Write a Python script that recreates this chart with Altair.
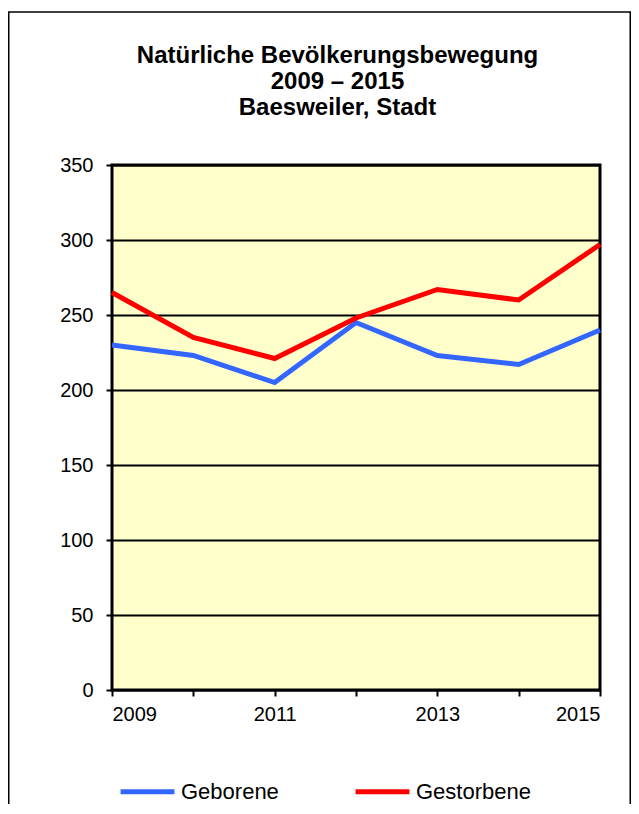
import altair as alt
import pandas as pd

years = [2009, 2010, 2011, 2012, 2013, 2014, 2015]
geborene = [230, 223, 205, 245, 223, 217, 240]
gestorbene = [265, 235, 221, 248, 267, 260, 297]
series_names = ["Geborene", "Gestorbene"]
series_colors = ["#3366FF", "#FF0000"]
y_ticks = [0, 50, 100, 150, 200, 250, 300, 350]
title_lines = ["Natürliche Bevölkerungsbewegung", "2009 – 2015", "Baesweiler, Stadt"]

rows = []
for y, g, s in zip(years, geborene, gestorbene):
    rows.append({"Jahr": y, "Wert": g, "Reihe": series_names[0]})
    rows.append({"Jahr": y, "Wert": s, "Reihe": series_names[1]})
df = pd.DataFrame(rows)

FONT = "Liberation Sans"

lines = alt.Chart(df).mark_line(strokeWidth=5, clip=False).encode(
    x=alt.X("Jahr:Q", scale=alt.Scale(domain=[2009, 2015], nice=False, zero=False),
            axis=alt.Axis(values=years, format="d", title=None, grid=False,
                          labelExpr="datum.value % 2 == 1 ? datum.label : ''",
                          tickSize=6, tickWidth=2, tickColor="black",
                          labelFontSize=20, labelPadding=8, domain=False,
                          labelFont=FONT, labelColor="black")),
    y=alt.Y("Wert:Q", scale=alt.Scale(domain=[0, 350], nice=False),
            axis=alt.Axis(values=y_ticks, title=None, grid=True, gridColor="black",
                          gridWidth=1.8, tickSize=6, tickWidth=2, tickColor="black",
                          labelFontSize=20, labelPadding=13, domain=False,
                          labelFont=FONT, labelColor="black")),
    color=alt.Color("Reihe:N", scale=alt.Scale(domain=series_names, range=series_colors),
                    legend=alt.Legend(orient="none", legendX=6, legendY=597,
                                      direction="horizontal", title=None,
                                      symbolType="stroke", symbolSize=2900,
                                      symbolStrokeWidth=5, labelFontSize=22,
                                      labelFont=FONT, labelColor="black",
                                      labelOffset=4, columnPadding=66)),
)

frame = alt.Chart(pd.DataFrame({"a": [0]})).mark_rect(
    fill=None, stroke="black", strokeWidth=1.5, clip=False
).encode(
    x=alt.value(-103.25), x2=alt.value(518.25), y=alt.value(-153), y2=alt.value(700)
)

title_layers = []
for txt, yy in zip(title_lines, [-102, -76, -50]):
    title_layers.append(
        alt.Chart(pd.DataFrame({"a": [0]})).mark_text(
            text=txt, font=FONT, fontSize=24, fontWeight="bold", color="black",
            align="center", baseline="alphabetic", clip=False
        ).encode(x=alt.value(225.5), y=alt.value(yy))
    )

chart = alt.layer(frame, *title_layers, lines).properties(
    width=488, height=525,
    padding={"left": 104, "top": 157, "right": 31, "bottom": 114},
    autosize=alt.AutoSizeParams(type="none"),
    background="white",
).configure_view(
    fill="#FFFFCC", stroke="black", strokeWidth=3
)

chart.save("out.html", embed_options={"renderer": "svg", "actions": False})
